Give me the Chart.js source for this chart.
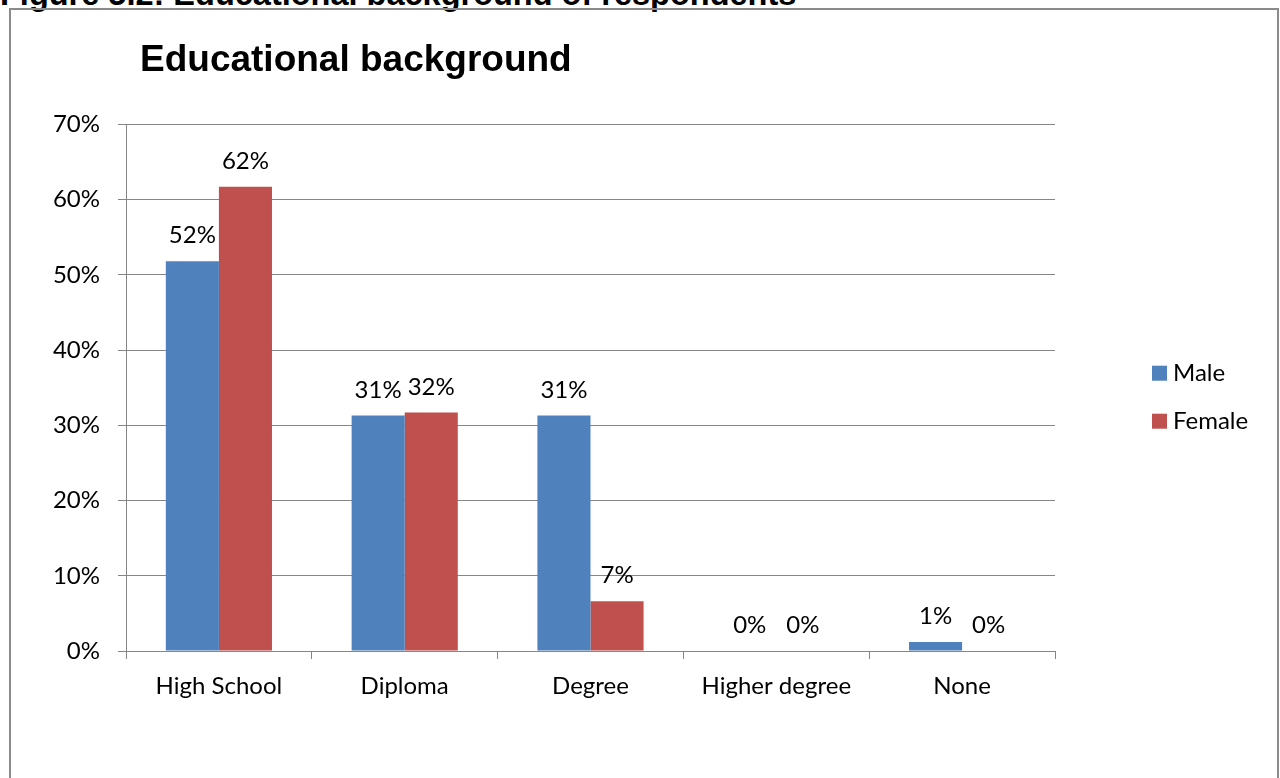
<!DOCTYPE html>
<html>
<head>
<meta charset="utf-8">
<title>Educational background</title>
<script src="https://cdn.jsdelivr.net/npm/chart.js@4.4.1/dist/chart.umd.min.js"></script>
<style>
    html, body { margin: 0; padding: 0; background: #fff; overflow: hidden; }
    body { width: 1280px; height: 778px; position: relative; }
    #caption {
        position: absolute; left: 0; top: -22px;
        font: bold 32.5px "Liberation Sans", Arial, sans-serif; line-height: 32px;
        color: #000; white-space: nowrap;
    }
    #frame {
        position: absolute; left: 9px; top: 8px; width: 1266px; height: 800px;
        border: 2px solid #8a8a8a;
    }
    #chart { position: absolute; left: 0; top: 0; }
</style>
</head>
<body>
<div id="caption">Figure 5.2: Educational background of respondents</div>
<div id="frame"></div>
<canvas id="chart" width="1280" height="778"></canvas>
<script>
"use strict";

// Data
var categories = ["High School", "Diploma", "Degree", "Higher degree", "None"];
var maleValues = [51.8, 31.3, 31.3, 0, 1.2];
var femaleValues = [61.7, 31.7, 6.6, 0, 0];
var yTicks = [0, 10, 20, 30, 40, 50, 60, 70];

var labelFont = { family: "Lato", size: 24 };
var gridColor = "#868686";

// Percent labels above each bar
var barLabels = {
    id: "barLabels",
    afterDatasetsDraw: function (chart) {
        var ctx = chart.ctx;
        ctx.save();
        ctx.font = labelFont.size + "px " + labelFont.family;
        ctx.fillStyle = "#000";
        ctx.textAlign = "center";
        ctx.textBaseline = "alphabetic";
        chart.data.datasets.forEach(function (ds, i) {
            chart.getDatasetMeta(i).data.forEach(function (bar, j) {
                ctx.fillText(Math.round(ds.data[j]) + "%", bar.x, bar.y - 18);
            });
        });
        ctx.restore();
    }
};

// Legend at the right, beside the plot
var sideLegend = {
    id: "sideLegend",
    afterDraw: function (chart) {
        var ctx = chart.ctx;
        var area = chart.chartArea;
        var x = area.right + 97;
        var mid = (area.top + area.bottom) / 2 + 9;
        ctx.save();
        ctx.font = labelFont.size + "px " + labelFont.family;
        ctx.textBaseline = "alphabetic";
        ctx.textAlign = "left";
        chart.data.datasets.forEach(function (ds, i) {
            var base = mid - 24 + i * 48 + 8;
            ctx.fillStyle = ds.backgroundColor;
            ctx.fillRect(x, base - 15, 15, 15);
            ctx.fillStyle = "#000";
            ctx.fillText(ds.label, x + 21, base);
        });
        ctx.restore();
    }
};

// Move the title off the left edge
var titleShift = {
    id: "titleShift",
    afterLayout: function (chart) {
        if (chart.titleBlock) chart.titleBlock.left = 140;
    }
};

new Chart(document.getElementById("chart"), {
    type: "bar",
    data: {
        labels: categories,
        datasets: [
            { label: "Male", data: maleValues, backgroundColor: "#4F81BD" },
            { label: "Female", data: femaleValues, backgroundColor: "#C0504D" }
        ]
    },
    options: {
        responsive: false,
        animation: false,
        events: [],
        datasets: { bar: { categoryPercentage: 2 / 3.5, barPercentage: 1 } },
        layout: { padding: { left: 0, right: 225, top: 0, bottom: 67 } },
        plugins: {
            legend: { display: false },
            tooltip: { enabled: false },
            title: {
                display: true,
                text: "Educational background",
                align: "start",
                color: "#000",
                font: { family: "Liberation Sans", size: 37, weight: "bold", lineHeight: 1.2 },
                padding: { top: 39, bottom: 41 }
            }
        },
        scales: {
            x: {
                grid: { display: true, drawOnChartArea: false, drawTicks: true, tickLength: 8, color: gridColor },
                border: { color: gridColor },
                ticks: { color: "#000", font: labelFont, padding: 13 },
                afterFit: function (scale) { scale.height = 60; }
            },
            y: {
                min: 0,
                max: 70,
                afterBuildTicks: function (scale) {
                    scale.ticks = yTicks.map(function (v) { return { value: v }; });
                },
                grid: { color: gridColor, tickLength: 8 },
                border: { color: gridColor },
                ticks: {
                    color: "#000",
                    font: labelFont,
                    padding: 18,
                    callback: function (v) { return v + "%"; }
                },
                afterFit: function (scale) { scale.width = 126; }
            }
        }
    },
    plugins: [barLabels, sideLegend, titleShift]
});
</script>
</body>
</html>
